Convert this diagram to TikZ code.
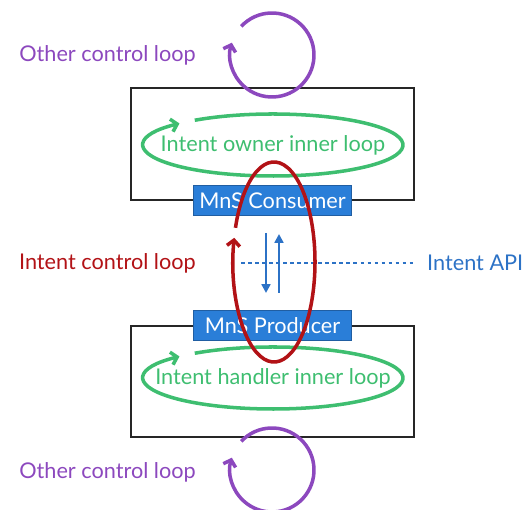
\documentclass[tikz,border=0pt]{standalone}
\usepackage{fontspec}
\setmainfont{Lato}
\usepackage{xcolor}
\usepackage{tikz}
\usetikzlibrary{arrows.meta}
\usetikzlibrary{positioning}
\definecolor{loopviolet}{RGB}{140,72,190}
\definecolor{loopgreen}{RGB}{62,190,112}
\definecolor{loopred}{RGB}{178,18,22}
\definecolor{mnsblue}{RGB}{42,126,216}
\definecolor{apiblue}{RGB}{44,114,198}
\tikzset{
    sysbox/.style = {rectangle, draw=black!85, line width=1.1pt, minimum width=8.49cm},
    mnsbox/.style = {rectangle, draw=mnsblue!75!black, fill=mnsblue, text=white, minimum width=4.74cm, minimum height=0.9cm, inner sep=0pt},
    looptext/.style = {inner sep=0pt},
}

\begin{document}
\begin{tikzpicture}[
    x=0.03cm, y=0.03cm,
    font=\fontsize{18.5}{21}\selectfont
]
\tikzset{
    violetloop/.style = {loopviolet, line width=3pt, -{Straight Barb[length=5pt,width=11pt]}},
    greenloop/.style = {loopgreen, line width=3pt, -{Straight Barb[length=5pt,width=11pt]}},
    redloop/.style = {loopred, line width=3pt, -{Straight Barb[length=5pt,width=11pt]}},
    apiarrow/.style = {apiblue, line width=2.2pt, -{Triangle[length=7.5pt,width=7.5pt]}},
    apiline/.style = {apiblue, line width=1pt, dashed}
}
\useasboundingbox (0,0) rectangle (522,510);
% owner and handler systems
\node[sysbox, minimum height=3.36cm] at (272.5,366) (owner) {};
\node[sysbox, minimum height=3.33cm] at (272.5,128.5) (handler) {};
\node[mnsbox] at (owner.south) (consumer) {MnS Consumer};
\node[mnsbox] at (handler.north) (producer) {MnS Producer};
% inner loops
\coordinate (ownerloop) at (273,365);
\coordinate (handlerloop) at (273,132);
\draw[greenloop] (ownerloop) ++(127:130 and 31) arc[start angle=127, end angle=-224, x radius=130, y radius=31];
\draw[greenloop] (handlerloop) ++(127:130 and 31) arc[start angle=127, end angle=-224, x radius=130, y radius=31];
\node[looptext, text=loopgreen] at (ownerloop) (ownertext) {Intent owner inner loop};
\node[looptext, text=loopgreen] at (handlerloop) (handlertext) {Intent handler inner loop};
% intent API
\coordinate (down1) at (266,277);
\coordinate (down2) at (266,217);
\coordinate (up1) at (279,217);
\coordinate (up2) at (279,276);
\draw[apiarrow] (down1) -- (down2);
\draw[apiarrow] (up1) -- (up2);
\node[looptext, text=apiblue, anchor=west] at (427,247) (api) {Intent API};
\coordinate (apistart) at (241,247);
\draw[apiline] (apistart) -- ([xshift=-12pt]api.west);
% intent control loop
\coordinate (intentloop) at (274,248);
\draw[redloop] (intentloop) ++(160:41 and 100) arc[start angle=160, end angle=-194, x radius=41, y radius=100];
\node[looptext, text=loopred, anchor=east] at (196,247) (ctrltext) {Intent control loop};
% other control loops
\coordinate (topcycle) at (272,455);
\coordinate (bottomcycle) at (272,40);
\draw[violetloop] (topcycle) ++(137:42) arc[start angle=137, end angle=-197, radius=42];
\draw[violetloop] (bottomcycle) ++(137:42) arc[start angle=137, end angle=-197, radius=42];
\node[looptext, text=loopviolet, anchor=east] at (196,455) (topother) {Other control loop};
\node[looptext, text=loopviolet, anchor=east] at (196,38) (bottomother) {Other control loop};
\end{tikzpicture}
\end{document}
